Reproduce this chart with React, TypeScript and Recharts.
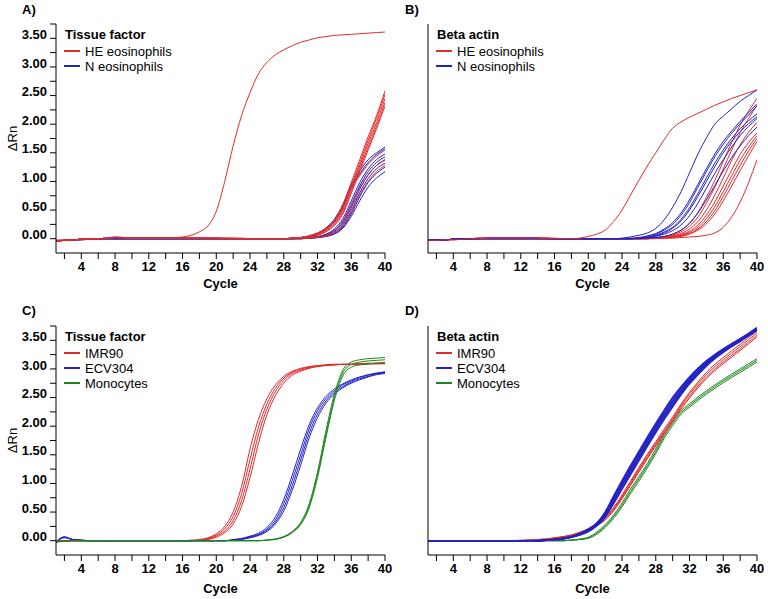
import { LineChart, Line, XAxis, YAxis } from 'recharts';

const FONT = '"Liberation Sans", Arial, Helvetica, sans-serif';
const RED = '#e12a2a';
const BLUE = '#2222c4';
const GREEN = '#1f861f';

const cycles = [
  1, 2, 3, 4, 5, 6, 7, 8, 9, 10, 11, 12, 13, 14, 15, 16, 17, 18, 19, 20,
  21, 22, 23, 24, 25, 26, 27, 28, 29, 30, 31, 32, 33, 34, 35, 36, 37, 38, 39, 40,
];
const xTicks = [2, 4, 6, 8, 10, 12, 14, 16, 18, 20, 22, 24, 26, 28, 30, 32, 34, 36, 38, 40];
const xLabels = [4, 8, 12, 16, 20, 24, 28, 32, 36, 40];
const yTicks = [0, 0.25, 0.5, 0.75, 1, 1.25, 1.5, 1.75, 2, 2.25, 2.5, 2.75, 3, 3.25, 3.5, 3.75];
const yLabels = [0, 0.5, 1, 1.5, 2, 2.5, 3, 3.5];

const eosLegend = ['HE eosinophils', 'N eosinophils'];
const cellLegend = ['IMR90', 'ECV304', 'Monocytes'];

// ---- A) Tissue factor, eosinophils ----
const aRedEarly = [
  -0.04, -0.03, -0.02, -0.01, 0, 0, 0.01, 0.03, 0.02, 0.01, 0.01, 0.02, 0.02, 0.02, 0.02, 0.03, 0.06, 0.12, 0.22, 0.48,
  1.0, 1.62, 2.15, 2.55, 2.88, 3.08, 3.21, 3.3, 3.37, 3.43, 3.47, 3.51, 3.53, 3.55, 3.56, 3.57, 3.58, 3.59, 3.6, 3.61,
];
const aRed1 = [
  -0.04, -0.03, -0.02, -0.01, 0, 0, 0.01, 0.02, 0.02, 0.01, 0.01, 0.01, 0.02, 0.02, 0.01, 0.01, 0.01, 0.01, 0.01, 0.01,
  0.01, 0.01, 0.01, 0, 0, 0, 0, 0, 0.01, 0.02, 0.05, 0.1, 0.18, 0.32, 0.58, 0.98, 1.38, 1.78, 2.15, 2.58,
];
const aRed2 = [
  -0.03, -0.03, -0.02, -0.01, 0, 0, 0.01, 0.03, 0.02, 0.01, 0.01, 0.02, 0.02, 0.01, 0.01, 0.01, 0.01, 0.01, 0.01, 0.01,
  0.01, 0.01, 0, 0, 0, 0, 0, 0, 0.01, 0.02, 0.04, 0.09, 0.16, 0.29, 0.53, 0.92, 1.32, 1.72, 2.1, 2.52,
];
const aRed3 = [
  -0.04, -0.03, -0.02, -0.01, -0.01, 0, 0, 0.02, 0.02, 0.01, 0.01, 0.01, 0.01, 0.02, 0.01, 0.01, 0.01, 0.01, 0.01, 0.01,
  0, 0, 0, 0, 0, 0, 0, 0, 0.01, 0.02, 0.04, 0.08, 0.15, 0.27, 0.5, 0.88, 1.27, 1.66, 2.03, 2.45,
];
const aRed4 = [
  -0.04, -0.03, -0.02, -0.01, 0, 0, 0.01, 0.02, 0.01, 0.01, 0.01, 0.02, 0.02, 0.01, 0.01, 0.01, 0.01, 0.01, 0.01, 0.01,
  0.01, 0, 0, 0, 0, 0, 0, 0, 0.01, 0.01, 0.03, 0.07, 0.13, 0.25, 0.46, 0.83, 1.22, 1.6, 1.97, 2.38,
];
const aRed5 = [
  -0.03, -0.02, -0.02, -0.01, 0, 0, 0.01, 0.02, 0.02, 0.01, 0.01, 0.01, 0.01, 0.01, 0.01, 0.01, 0.01, 0.01, 0.01, 0.01,
  0, 0, 0, 0, 0, 0, 0, 0, 0, 0.01, 0.03, 0.06, 0.12, 0.23, 0.43, 0.79, 1.17, 1.55, 1.92, 2.32,
];
const aRedU = [
  -0.04, -0.03, -0.02, -0.01, 0, 0, 0.01, 0.02, 0.02, 0.01, 0.01, 0.01, 0.01, 0.01, 0.01, 0.01, 0.01, 0.01, 0.01, 0,
  0, 0, 0, 0, 0, 0, 0, 0, 0.01, 0.02, 0.04, 0.09, 0.17, 0.3, 0.55, 0.88, 1.1, 1.3, 1.44, 1.55,
];
const aRed6 = [
  -0.04, -0.03, -0.02, -0.01, 0, 0, 0.01, 0.02, 0.01, 0.01, 0.01, 0.01, 0.01, 0.01, 0.01, 0.01, 0.01, 0, 0, 0,
  0, 0, 0, 0, 0, 0, 0, 0, 0, 0.01, 0.02, 0.03, 0.06, 0.14, 0.29, 0.57, 0.88, 1.12, 1.28, 1.37,
];
const aRed7 = [
  -0.04, -0.03, -0.02, -0.01, 0, 0, 0.01, 0.02, 0.02, 0.01, 0.01, 0.01, 0.01, 0.01, 0.01, 0.01, 0, 0, 0, 0,
  0, 0, 0, 0, 0, 0, 0, 0, 0, 0, 0.01, 0.02, 0.05, 0.1, 0.22, 0.46, 0.76, 1.0, 1.17, 1.28,
];
const aBlueU1 = [
  -0.04, -0.03, -0.02, -0.01, -0.01, 0, 0, 0, 0, 0, 0, 0, 0, 0, 0, 0, 0, 0, 0, 0,
  0, 0, 0, 0, 0, 0, 0, 0, 0.01, 0.02, 0.05, 0.1, 0.19, 0.34, 0.6, 0.95, 1.18, 1.38, 1.5, 1.6,
];
const aBlueU2 = [
  -0.04, -0.03, -0.03, -0.02, -0.01, 0, 0, 0, 0, 0, 0, 0, 0, 0, 0, 0, 0, 0, 0, 0,
  0, 0, 0, 0, 0, 0, 0, 0, 0.01, 0.02, 0.04, 0.09, 0.17, 0.31, 0.56, 0.9, 1.13, 1.33, 1.47, 1.57,
];
const aBlue1 = [
  -0.04, -0.03, -0.02, -0.01, -0.01, 0, 0, 0, 0, 0, 0, 0, 0, 0, 0, 0, 0, 0, 0, 0,
  0, 0, 0, 0, 0, 0, 0, 0, 0, 0.01, 0.02, 0.04, 0.08, 0.17, 0.35, 0.66, 0.98, 1.22, 1.38, 1.48,
];
const aBlue2 = [
  -0.04, -0.03, -0.02, -0.02, -0.01, 0, 0, 0, 0, 0, 0, 0, 0, 0, 0, 0, 0, 0, 0, 0,
  0, 0, 0, 0, 0, 0, 0, 0, 0, 0.01, 0.02, 0.03, 0.07, 0.15, 0.31, 0.6, 0.92, 1.17, 1.33, 1.43,
];
const aBlue3 = [
  -0.03, -0.03, -0.02, -0.01, -0.01, 0, 0, 0, 0, 0, 0, 0, 0, 0, 0, 0, 0, 0, 0, 0,
  0, 0, 0, 0, 0, 0, 0, 0, 0, 0, 0.01, 0.03, 0.06, 0.13, 0.27, 0.54, 0.86, 1.11, 1.28, 1.38,
];
const aBlue4 = [
  -0.04, -0.03, -0.02, -0.01, 0, 0, 0, 0, 0, 0, 0, 0, 0, 0, 0, 0, 0, 0, 0, 0,
  0, 0, 0, 0, 0, 0, 0, 0, 0, 0, 0.01, 0.02, 0.05, 0.11, 0.24, 0.49, 0.8, 1.05, 1.22, 1.32,
];
const aBlue5 = [
  -0.04, -0.03, -0.02, -0.01, -0.01, 0, 0, 0, 0, 0, 0, 0, 0, 0, 0, 0, 0, 0, 0, 0,
  0, 0, 0, 0, 0, 0, 0, 0, 0, 0, 0.01, 0.02, 0.04, 0.09, 0.2, 0.43, 0.73, 0.98, 1.14, 1.25,
];
const aBlue6 = [
  -0.03, -0.03, -0.02, -0.01, 0, 0, 0, 0, 0, 0, 0, 0, 0, 0, 0, 0, 0, 0, 0, 0,
  0, 0, 0, 0, 0, 0, 0, 0, 0, 0, 0.01, 0.02, 0.04, 0.08, 0.18, 0.39, 0.66, 0.9, 1.06, 1.17,
];

// ---- B) Beta actin, eosinophils ----
const bRedEarly = [
  -0.03, -0.03, -0.02, -0.02, -0.01, 0, 0, 0.01, 0.01, 0.01, 0.01, 0.01, 0.01, 0.01, 0, 0, 0, 0, 0.01, 0.04,
  0.08, 0.15, 0.3, 0.5, 0.76, 1.02, 1.27, 1.5, 1.73, 1.93, 2.04, 2.12, 2.19, 2.26, 2.33, 2.39, 2.45, 2.5, 2.55, 2.6,
];
const bRed1 = [
  -0.03, -0.03, -0.02, -0.01, -0.01, 0, 0, 0.01, 0.01, 0.01, 0.01, 0.01, 0.01, 0.01, 0.01, 0, 0, 0, 0, 0,
  0, 0, 0, 0, 0, 0, 0.01, 0.02, 0.04, 0.08, 0.15, 0.27, 0.46, 0.72, 1.02, 1.35, 1.68, 1.98, 2.23, 2.45,
];
const bRed2 = [
  -0.03, -0.02, -0.02, -0.01, 0, 0, 0.01, 0.01, 0.01, 0.01, 0.01, 0.01, 0.01, 0.01, 0, 0, 0, 0, 0, 0,
  0, 0, 0, 0, 0, 0, 0.01, 0.02, 0.03, 0.06, 0.12, 0.22, 0.38, 0.62, 0.9, 1.22, 1.55, 1.85, 2.1, 2.33,
];
const bRed3 = [
  -0.03, -0.03, -0.02, -0.01, 0, 0, 0, 0.01, 0.01, 0.01, 0.01, 0.01, 0.01, 0.01, 0.01, 0.01, 0, 0, 0, 0,
  0, 0, 0, 0, 0, 0, 0, 0.01, 0.02, 0.05, 0.09, 0.17, 0.3, 0.5, 0.76, 1.06, 1.37, 1.64, 1.86, 2.03,
];
const bRed4 = [
  -0.03, -0.03, -0.02, -0.02, -0.01, 0, 0, 0.01, 0.01, 0.01, 0.01, 0.01, 0.01, 0, 0, 0, 0, 0, 0, 0,
  0, 0, 0, 0, 0, 0, 0, 0.01, 0.02, 0.04, 0.07, 0.13, 0.24, 0.41, 0.64, 0.92, 1.2, 1.47, 1.68, 1.85,
];
const bRed5 = [
  -0.02, -0.02, -0.02, -0.01, 0, 0, 0.01, 0.01, 0.01, 0.01, 0.01, 0.01, 0.01, 0.01, 0.01, 0, 0, 0, 0, 0,
  0, 0, 0, 0, 0, 0, 0, 0.01, 0.02, 0.03, 0.06, 0.11, 0.2, 0.35, 0.56, 0.82, 1.1, 1.37, 1.6, 1.8,
];
const bRed6 = [
  -0.03, -0.03, -0.02, -0.01, -0.01, 0, 0, 0.01, 0.01, 0.01, 0.01, 0.01, 0.01, 0.01, 0, 0, 0, 0, 0, 0,
  0, 0, 0, 0, 0, 0, 0, 0.01, 0.01, 0.03, 0.05, 0.09, 0.17, 0.3, 0.49, 0.74, 1.01, 1.28, 1.53, 1.75,
];
const bRed7 = [
  -0.03, -0.02, -0.02, -0.01, 0, 0, 0, 0.01, 0.01, 0.01, 0.01, 0.01, 0.01, 0.01, 0.01, 0, 0, 0, 0, 0,
  0, 0, 0, 0, 0, 0, 0, 0.01, 0.01, 0.02, 0.04, 0.08, 0.15, 0.26, 0.43, 0.66, 0.92, 1.19, 1.45, 1.7,
];
const bRed8 = [
  -0.03, -0.03, -0.02, -0.01, 0, 0, 0.01, 0.01, 0.01, 0.01, 0.01, 0.01, 0.01, 0.01, 0, 0, 0, 0, 0, 0,
  0, 0, 0, 0, 0, 0, 0, 0, 0.01, 0.01, 0.02, 0.03, 0.04, 0.06, 0.1, 0.2, 0.38, 0.64, 0.98, 1.38,
];
const bBlue1 = [
  -0.03, -0.03, -0.02, -0.01, -0.01, 0, 0, 0, 0, 0, 0, 0, 0, 0, 0, 0, 0, 0, 0, 0,
  0, 0, 0, 0.01, 0.03, 0.06, 0.1, 0.18, 0.33, 0.55, 0.82, 1.15, 1.48, 1.76, 2.0, 2.14, 2.27, 2.4, 2.5, 2.6,
];
const bBlue2 = [
  -0.03, -0.02, -0.02, -0.01, 0, 0, 0, 0, 0, 0, 0, 0, 0, 0, 0, 0, 0, 0, 0, 0,
  0, 0, 0, 0, 0.01, 0.02, 0.05, 0.09, 0.17, 0.28, 0.45, 0.68, 0.95, 1.22, 1.48, 1.7, 1.88, 2.05, 2.2, 2.36,
];
const bBlue3 = [
  -0.03, -0.03, -0.02, -0.01, 0, 0, 0, 0, 0, 0, 0, 0, 0, 0, 0, 0, 0, 0, 0, 0,
  0, 0, 0, 0, 0, 0.01, 0.04, 0.08, 0.15, 0.25, 0.41, 0.63, 0.9, 1.17, 1.43, 1.65, 1.84, 2.01, 2.16, 2.32,
];
const bBlue4 = [
  -0.03, -0.02, -0.02, -0.01, -0.01, 0, 0, 0, 0, 0, 0, 0, 0, 0, 0, 0, 0, 0, 0, 0,
  0, 0, 0, 0, 0, 0.01, 0.03, 0.06, 0.12, 0.2, 0.34, 0.54, 0.79, 1.06, 1.32, 1.55, 1.75, 1.92, 2.06, 2.18,
];
const bBlue5 = [
  -0.03, -0.03, -0.02, -0.01, 0, 0, 0, 0, 0, 0, 0, 0, 0, 0, 0, 0, 0, 0, 0, 0,
  0, 0, 0, 0, 0, 0.01, 0.02, 0.05, 0.1, 0.18, 0.31, 0.5, 0.74, 1.0, 1.26, 1.5, 1.7, 1.87, 2.01, 2.13,
];
const bBlue6 = [
  -0.03, -0.02, -0.02, -0.01, 0, 0, 0, 0, 0, 0, 0, 0, 0, 0, 0, 0, 0, 0, 0, 0,
  0, 0, 0, 0, 0, 0.01, 0.02, 0.04, 0.08, 0.14, 0.24, 0.4, 0.62, 0.88, 1.14, 1.38, 1.6, 1.8, 1.96, 2.1,
];
const bBlue7 = [
  -0.03, -0.03, -0.02, -0.01, -0.01, 0, 0, 0, 0, 0, 0, 0, 0, 0, 0, 0, 0, 0, 0, 0,
  0, 0, 0, 0, 0, 0, 0.01, 0.02, 0.04, 0.08, 0.15, 0.27, 0.45, 0.68, 0.93, 1.18, 1.42, 1.62, 1.8, 1.95,
];

// ---- C) Tissue factor, cell lines ----
const cRed1 = [
  -0.02, -0.01, 0, 0, 0, 0, 0, 0, 0, 0, 0, 0, 0, 0, 0, 0, 0.01, 0.02, 0.05, 0.12,
  0.25, 0.5, 0.95, 1.6, 2.12, 2.48, 2.72, 2.87, 2.96, 3.01, 3.04, 3.06, 3.07, 3.08, 3.08, 3.08, 3.09, 3.09, 3.09, 3.1,
];
const cRed2 = [
  -0.02, -0.01, 0, 0, 0, 0, 0, 0, 0, 0, 0, 0, 0, 0, 0, 0, 0, 0.01, 0.04, 0.1,
  0.21, 0.42, 0.82, 1.42, 1.98, 2.39, 2.66, 2.84, 2.94, 3.0, 3.03, 3.05, 3.07, 3.08, 3.08, 3.08, 3.08, 3.09, 3.09, 3.09,
];
const cRed3 = [
  -0.02, -0.01, 0, 0, 0, 0, 0, 0, 0, 0, 0, 0, 0, 0, 0, 0, 0, 0.01, 0.03, 0.08,
  0.17, 0.35, 0.7, 1.25, 1.85, 2.3, 2.6, 2.8, 2.92, 2.98, 3.02, 3.05, 3.06, 3.07, 3.08, 3.08, 3.09, 3.09, 3.1, 3.1,
];
const cRed4 = [
  -0.02, -0.01, 0, 0, 0, 0, 0, 0, 0, 0, 0, 0, 0, 0, 0, 0, 0, 0.01, 0.02, 0.06,
  0.14, 0.29, 0.6, 1.1, 1.7, 2.2, 2.53, 2.75, 2.89, 2.96, 3.01, 3.04, 3.06, 3.07, 3.08, 3.08, 3.09, 3.1, 3.1, 3.11,
];
const cBlue1 = [
  -0.03, 0.07, 0.02, 0.01, 0, 0, 0, 0, 0, 0, 0, 0, 0, 0, 0, 0, 0, 0, 0, 0,
  0, 0.02, 0.04, 0.08, 0.13, 0.23, 0.41, 0.72, 1.14, 1.6, 2.02, 2.32, 2.52, 2.65, 2.74, 2.81, 2.86, 2.9, 2.93, 2.95,
];
const cBlue2 = [
  -0.02, 0.06, 0.02, 0.01, 0, 0, 0, 0, 0, 0, 0, 0, 0, 0, 0, 0, 0, 0, 0, 0,
  0, 0.01, 0.03, 0.07, 0.11, 0.2, 0.36, 0.65, 1.05, 1.5, 1.95, 2.27, 2.48, 2.62, 2.72, 2.79, 2.85, 2.89, 2.92, 2.94,
];
const cBlue3 = [
  -0.03, 0.05, 0.02, 0.01, 0, 0, 0, 0, 0, 0, 0, 0, 0, 0, 0, 0, 0, 0, 0, 0,
  0, 0.01, 0.03, 0.06, 0.1, 0.18, 0.32, 0.58, 0.96, 1.41, 1.87, 2.21, 2.44, 2.59, 2.69, 2.77, 2.83, 2.87, 2.91, 2.93,
];
const cBlue4 = [
  -0.02, 0.06, 0.01, 0, 0, 0, 0, 0, 0, 0, 0, 0, 0, 0, 0, 0, 0, 0, 0, 0,
  0, 0.01, 0.02, 0.05, 0.09, 0.16, 0.29, 0.52, 0.88, 1.32, 1.79, 2.15, 2.4, 2.56, 2.67, 2.75, 2.81, 2.86, 2.9, 2.92,
];
const cGreen1 = [
  -0.01, 0, 0, 0, 0, 0, 0, 0, 0, 0, 0, 0, 0, 0, 0, 0, 0, 0, 0, 0,
  0, 0, 0, 0, 0, 0.01, 0.03, 0.07, 0.16, 0.32, 0.64, 1.2, 1.92, 2.56, 2.98, 3.12, 3.16, 3.18, 3.19, 3.2,
];
const cGreen2 = [
  -0.01, 0, 0, 0, 0, 0, 0, 0, 0, 0, 0, 0, 0, 0, 0, 0, 0, 0, 0, 0,
  0, 0, 0, 0, 0, 0.01, 0.03, 0.07, 0.15, 0.3, 0.6, 1.15, 1.85, 2.5, 2.93, 3.08, 3.12, 3.14, 3.15, 3.16,
];
const cGreen3 = [
  -0.01, 0, 0, 0, 0, 0, 0, 0, 0, 0, 0, 0, 0, 0, 0, 0, 0, 0, 0, 0,
  0, 0, 0, 0, 0, 0.01, 0.02, 0.06, 0.14, 0.28, 0.57, 1.1, 1.8, 2.45, 2.88, 3.03, 3.07, 3.09, 3.1, 3.11,
];

// ---- D) Beta actin, cell lines ----
const dRed1 = [
  0, 0, 0, 0, 0, 0, 0, 0, 0, 0, 0, 0.01, 0.01, 0.02, 0.03, 0.05, 0.07, 0.1, 0.15, 0.21,
  0.3, 0.41, 0.58, 0.8, 1.04, 1.28, 1.51, 1.73, 1.95, 2.16, 2.39, 2.59, 2.77, 2.94, 3.08, 3.2, 3.32, 3.43, 3.55, 3.66,
];
const dRed2 = [
  0, 0, 0, 0, 0, 0, 0, 0, 0, 0, 0, 0, 0.01, 0.02, 0.03, 0.05, 0.07, 0.1, 0.14, 0.2,
  0.28, 0.39, 0.56, 0.77, 1.01, 1.25, 1.48, 1.7, 1.92, 2.13, 2.36, 2.56, 2.74, 2.9, 3.04, 3.16, 3.28, 3.39, 3.51, 3.63,
];
const dRed3 = [
  0, 0, 0, 0, 0, 0, 0, 0, 0, 0, 0, 0, 0.01, 0.01, 0.02, 0.04, 0.06, 0.09, 0.13, 0.19,
  0.27, 0.37, 0.54, 0.75, 0.98, 1.22, 1.45, 1.67, 1.89, 2.1, 2.33, 2.52, 2.7, 2.86, 3.0, 3.12, 3.24, 3.35, 3.47, 3.59,
];
const dRed4 = [
  0, 0, 0, 0, 0, 0, 0, 0, 0, 0, 0, 0, 0.01, 0.01, 0.02, 0.04, 0.06, 0.09, 0.12, 0.18,
  0.26, 0.36, 0.52, 0.73, 0.96, 1.2, 1.43, 1.65, 1.87, 2.08, 2.3, 2.49, 2.67, 2.83, 2.97, 3.09, 3.21, 3.32, 3.44, 3.56,
];
const dBlue1 = [
  0, 0, 0, 0, 0, 0, 0, 0, 0, 0, 0, 0, 0, 0, 0.01, 0.02, 0.04, 0.07, 0.12, 0.2,
  0.31, 0.5, 0.78, 1.05, 1.31, 1.56, 1.81, 2.05, 2.28, 2.5, 2.69, 2.86, 3.01, 3.14, 3.25, 3.35, 3.44, 3.53, 3.62, 3.72,
];
const dBlue2 = [
  0, 0, 0, 0, 0, 0, 0, 0, 0, 0, 0, 0, 0, 0, 0.01, 0.02, 0.04, 0.07, 0.12, 0.19,
  0.3, 0.48, 0.75, 1.02, 1.27, 1.52, 1.77, 2.01, 2.24, 2.46, 2.66, 2.83, 2.99, 3.12, 3.24, 3.34, 3.43, 3.52, 3.61, 3.71,
];
const dBlue3 = [
  0, 0, 0, 0, 0, 0, 0, 0, 0, 0, 0, 0, 0, 0, 0.01, 0.02, 0.04, 0.07, 0.11, 0.18,
  0.29, 0.46, 0.72, 0.98, 1.23, 1.48, 1.73, 1.97, 2.2, 2.42, 2.62, 2.8, 2.96, 3.1, 3.22, 3.32, 3.42, 3.51, 3.6, 3.7,
];
const dBlue4 = [
  0, 0, 0, 0, 0, 0, 0, 0, 0, 0, 0, 0, 0, 0, 0.01, 0.02, 0.03, 0.06, 0.11, 0.17,
  0.27, 0.43, 0.68, 0.94, 1.19, 1.44, 1.69, 1.93, 2.16, 2.38, 2.59, 2.77, 2.93, 3.08, 3.2, 3.31, 3.41, 3.5, 3.59, 3.69,
];
const dBlue5 = [
  0, 0, 0, 0, 0, 0, 0, 0, 0, 0, 0, 0, 0, 0, 0.01, 0.02, 0.03, 0.06, 0.1, 0.16,
  0.26, 0.41, 0.65, 0.9, 1.15, 1.4, 1.65, 1.89, 2.12, 2.34, 2.55, 2.74, 2.9, 3.05, 3.18, 3.29, 3.39, 3.48, 3.58, 3.68,
];
const dGreen1 = [
  0, 0, 0, 0, 0, 0, 0, 0, 0, 0, 0, 0, 0, 0, 0, 0, 0, 0.01, 0.03, 0.06,
  0.15, 0.28, 0.45, 0.66, 0.9, 1.12, 1.35, 1.6, 1.87, 2.09, 2.27, 2.39, 2.51, 2.62, 2.72, 2.82, 2.91, 3.0, 3.09, 3.18,
];
const dGreen2 = [
  0, 0, 0, 0, 0, 0, 0, 0, 0, 0, 0, 0, 0, 0, 0, 0, 0, 0.01, 0.02, 0.05,
  0.13, 0.25, 0.42, 0.62, 0.86, 1.08, 1.31, 1.56, 1.83, 2.05, 2.24, 2.36, 2.48, 2.59, 2.69, 2.79, 2.88, 2.97, 3.06, 3.15,
];
const dGreen3 = [
  0, 0, 0, 0, 0, 0, 0, 0, 0, 0, 0, 0, 0, 0, 0, 0, 0, 0.01, 0.02, 0.04,
  0.11, 0.23, 0.39, 0.59, 0.82, 1.04, 1.27, 1.52, 1.79, 2.01, 2.21, 2.33, 2.45, 2.56, 2.66, 2.76, 2.85, 2.94, 3.03, 3.12,
];

type Curve = { values: number[]; color: string; width?: number };

const panelA: Curve[] = [
  ...[aBlueU1, aBlueU2, aBlue1, aBlue2, aBlue3, aBlue4, aBlue5, aBlue6].map((v) => ({ values: v, color: BLUE })),
  ...[aRed6, aRed7, aRedU, aRed1, aRed2, aRed3, aRed4, aRed5, aRedEarly].map((v) => ({ values: v, color: RED })),
];
const panelB: Curve[] = [
  ...[bRed1, bRed2, bRed3, bRed4, bRed5, bRed6, bRed7, bRed8].map((v) => ({ values: v, color: RED })),
  ...[bBlue1, bBlue2, bBlue3, bBlue4, bBlue5, bBlue6, bBlue7].map((v) => ({ values: v, color: BLUE })),
  { values: bRedEarly, color: RED },
];
const panelC: Curve[] = [
  ...[cRed1, cRed2, cRed3, cRed4].map((v) => ({ values: v, color: RED })),
  ...[cBlue1, cBlue2, cBlue3, cBlue4].map((v) => ({ values: v, color: BLUE })),
  ...[cGreen1, cGreen2, cGreen3].map((v) => ({ values: v, color: GREEN })),
];
const panelD: Curve[] = [
  ...[dGreen1, dGreen2, dGreen3].map((v) => ({ values: v, color: GREEN })),
  ...[dRed1, dRed2, dRed3, dRed4].map((v) => ({ values: v, color: RED })),
  ...[dBlue1, dBlue2, dBlue3, dBlue4, dBlue5].map((v) => ({ values: v, color: BLUE, width: 1.6 })),
];

const CHART_W = 392;
const CHART_H = 298;
const PLOT_TOP = 24;
const PLOT_H = 229;

function toRows(curves: Curve[]) {
  return cycles.map((c, i) => {
    const row: Record<string, number> = { cycle: c };
    curves.forEach((cv, j) => {
      row['s' + j] = cv.values[i];
    });
    return row;
  });
}

const XTick = (p: any) => {
  const v = p.payload.value;
  if (!xLabels.includes(v)) return null;
  return (
    <text x={p.x} y={p.y} dy="0.71em" textAnchor="middle" fontSize={13} fontWeight="bold" fill="#000">
      {v}
    </text>
  );
};

const YTick = (p: any) => {
  const v = p.payload.value;
  if (!yLabels.includes(v)) return null;
  return (
    <text x={p.x} y={p.y - 4} dy="0.355em" textAnchor="end" fontSize={13} fontWeight="bold" fill="#000">
      {v.toFixed(2)}
    </text>
  );
};

function Panel(props: {
  left: number;
  top: number;
  curves: Curve[];
  showY: boolean;
  cycleY: number;
}) {
  const { left, top, curves, showY, cycleY } = props;
  const rows = toRows(curves);
  return (
    <div style={{ position: 'absolute', left, top, width: CHART_W, height: CHART_H }}>
      <LineChart
        width={CHART_W}
        height={CHART_H}
        data={rows}
        margin={{ top: PLOT_TOP, right: 7, bottom: 0, left: 6 }}
      >
        <XAxis
          dataKey="cycle"
          type="number"
          domain={[1, 40]}
          ticks={xTicks}
          interval={0}
          allowDataOverflow
          height={45}
          stroke="#000"
          tickSize={6}
          tickMargin={3}
          tick={XTick}
          label={{
            content: () => (
              <text x={56 + 329 / 2} y={cycleY} textAnchor="middle" fontSize={13} fontWeight="bold" fill="#000">
                Cycle
              </text>
            ),
          }}
        />
        <YAxis
          type="number"
          domain={[-0.25, 3.75]}
          ticks={yTicks}
          interval={0}
          allowDataOverflow
          width={50}
          stroke="#000"
          tickSize={6}
          tickMargin={3}
          tick={showY ? YTick : false}
          label={
            showY
              ? {
                  content: () => (
                    <text
                      x={12.5}
                      y={PLOT_TOP + PLOT_H / 2}
                      transform={`rotate(-90 12.5 ${PLOT_TOP + PLOT_H / 2})`}
                      textAnchor="middle"
                      dominantBaseline="central"
                      fontSize={13}
                      fill="#000"
                    >
                      ΔRn
                    </text>
                  ),
                }
              : undefined
          }
        />
        {curves.map((cv, j) => (
          <Line
            key={j}
            dataKey={'s' + j}
            type="monotone"
            stroke={cv.color}
            strokeWidth={cv.width ?? 1}
            dot={false}
            activeDot={false}
            isAnimationActive={false}
          />
        ))}
      </LineChart>
    </div>
  );
}

function PanelLegend(props: { left: number; top: number; title: string; labels: string[]; colors: string[] }) {
  const { left, top, title, labels, colors } = props;
  return (
    <div style={{ position: 'absolute', left, top: top - 7.5, fontSize: 13, lineHeight: '15px', color: '#000' }}>
      <div style={{ fontWeight: 'bold', marginLeft: 1, height: 15, whiteSpace: 'nowrap' }}>{title}</div>
      <div style={{ height: 2 }} />
      {labels.map((l, i) => (
        <div key={l} style={{ display: 'flex', alignItems: 'center', height: 15, whiteSpace: 'nowrap' }}>
          <span style={{ display: 'inline-block', width: 16, height: 2, background: colors[i], marginRight: 5 }} />
          <span>{l}</span>
        </div>
      ))}
    </div>
  );
}

const Letter = (p: { x: number; y: number; text: string }) => (
  <div
    style={{
      position: 'absolute',
      left: p.x,
      top: p.y - 7.5,
      fontSize: 13,
      lineHeight: '15px',
      fontWeight: 'bold',
      color: '#000',
    }}
  >
    {p.text}
  </div>
);

export default function App() {
  return (
    <div
      style={{
        position: 'absolute',
        left: 0,
        top: 0,
        width: 768,
        height: 599,
        background: '#fff',
        fontFamily: FONT,
        overflow: 'hidden',
      }}
    >
      <Panel left={0} top={0} curves={panelA} showY cycleY={288} />
      <Panel left={372} top={0} curves={panelB} showY={false} cycleY={288} />
      <Panel left={0} top={302} curves={panelC} showY cycleY={291} />
      <Panel left={372} top={302} curves={panelD} showY={false} cycleY={291} />

      <Letter x={22} y={9} text="A)" />
      <Letter x={405} y={9} text="B)" />
      <Letter x={22} y={310} text="C)" />
      <Letter x={405} y={310} text="D)" />

      <PanelLegend left={64} top={34} title="Tissue factor" labels={eosLegend} colors={[RED, BLUE]} />
      <PanelLegend left={436} top={34} title="Beta actin" labels={eosLegend} colors={[RED, BLUE]} />
      <PanelLegend left={64} top={336} title="Tissue factor" labels={cellLegend} colors={[RED, BLUE, GREEN]} />
      <PanelLegend left={436} top={336} title="Beta actin" labels={cellLegend} colors={[RED, BLUE, GREEN]} />
    </div>
  );
}
